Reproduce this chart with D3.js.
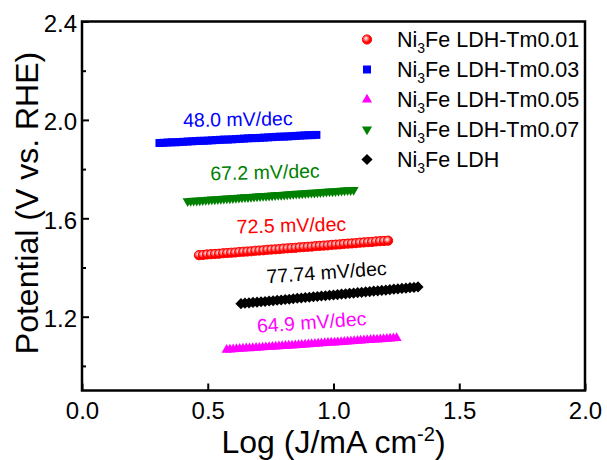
<!DOCTYPE html>
<html>

<head>
    <meta charset="utf-8">
    <script src="https://d3js.org/d3.v7.min.js"></script>
    <style>
        body {
            margin: 0;
            background: #fff;
        }

        svg text {
            font-family: Arial, "Liberation Sans", sans-serif;
        }
    </style>
</head>

<body>
    <script type="text/javascript">
        "use strict";

        // Tafel data (log J, potential V)
        var tm001X = [0.465, 0.481, 0.497, 0.513, 0.529, 0.545, 0.561, 0.577, 0.593, 0.609, 0.625, 0.641, 0.657, 0.673, 0.689, 0.705, 0.721, 0.737, 0.753, 0.769, 0.785, 0.801, 0.817, 0.833, 0.849, 0.865, 0.881, 0.897, 0.913, 0.929, 0.945, 0.961, 0.977, 0.993, 1.009, 1.025, 1.041, 1.057, 1.073, 1.089, 1.105, 1.121, 1.137, 1.153, 1.169, 1.185, 1.201, 1.217];
        var tm001Y = [1.450, 1.451, 1.453, 1.454, 1.455, 1.456, 1.458, 1.459, 1.460, 1.461, 1.463, 1.464, 1.465, 1.466, 1.468, 1.469, 1.470, 1.472, 1.473, 1.474, 1.475, 1.477, 1.478, 1.479, 1.480, 1.482, 1.483, 1.484, 1.485, 1.487, 1.488, 1.489, 1.490, 1.492, 1.493, 1.494, 1.496, 1.497, 1.498, 1.499, 1.501, 1.502, 1.503, 1.504, 1.506, 1.507, 1.508, 1.509];

        var tm003X = [0.308, 0.324, 0.340, 0.356, 0.372, 0.388, 0.404, 0.420, 0.436, 0.452, 0.468, 0.484, 0.500, 0.516, 0.532, 0.548, 0.564, 0.580, 0.596, 0.612, 0.628, 0.644, 0.660, 0.676, 0.692, 0.708, 0.724, 0.740, 0.756, 0.772, 0.788, 0.804, 0.820, 0.836, 0.852, 0.868, 0.884, 0.900, 0.916, 0.932];
        var tm003Y = [1.906, 1.907, 1.908, 1.909, 1.909, 1.910, 1.911, 1.912, 1.913, 1.914, 1.915, 1.915, 1.916, 1.917, 1.918, 1.919, 1.920, 1.920, 1.921, 1.922, 1.923, 1.924, 1.925, 1.926, 1.926, 1.927, 1.928, 1.929, 1.930, 1.931, 1.932, 1.932, 1.933, 1.934, 1.935, 1.936, 1.937, 1.938, 1.938, 1.939];

        var tm005X = [0.575, 0.588, 0.601, 0.614, 0.627, 0.640, 0.653, 0.666, 0.679, 0.692, 0.705, 0.718, 0.731, 0.744, 0.757, 0.770, 0.783, 0.796, 0.809, 0.822, 0.835, 0.848, 0.861, 0.874, 0.887, 0.900, 0.913, 0.926, 0.939, 0.952, 0.965, 0.978, 0.991, 1.004, 1.017, 1.030, 1.043, 1.056, 1.069, 1.082, 1.095, 1.108, 1.121, 1.134, 1.147, 1.160, 1.173, 1.186, 1.199, 1.212, 1.225, 1.238, 1.251];
        var tm005Y = [1.065, 1.066, 1.067, 1.068, 1.069, 1.070, 1.071, 1.071, 1.072, 1.073, 1.074, 1.075, 1.076, 1.077, 1.078, 1.079, 1.080, 1.081, 1.082, 1.083, 1.083, 1.084, 1.085, 1.086, 1.087, 1.088, 1.089, 1.090, 1.091, 1.092, 1.093, 1.094, 1.095, 1.095, 1.096, 1.097, 1.098, 1.099, 1.100, 1.101, 1.102, 1.103, 1.104, 1.105, 1.106, 1.107, 1.107, 1.108, 1.109, 1.110, 1.111, 1.112, 1.113];

        var tm007X = [0.420, 0.432, 0.444, 0.456, 0.468, 0.480, 0.492, 0.504, 0.516, 0.528, 0.540, 0.552, 0.564, 0.576, 0.588, 0.600, 0.612, 0.624, 0.636, 0.648, 0.660, 0.672, 0.684, 0.696, 0.708, 0.720, 0.732, 0.744, 0.756, 0.768, 0.780, 0.792, 0.804, 0.816, 0.828, 0.840, 0.852, 0.864, 0.876, 0.888, 0.900, 0.912, 0.924, 0.936, 0.948, 0.960, 0.972, 0.984, 0.996, 1.008, 1.020, 1.032, 1.044, 1.056, 1.068, 1.080];
        var tm007Y = [1.670, 1.671, 1.672, 1.672, 1.673, 1.674, 1.675, 1.676, 1.677, 1.677, 1.678, 1.679, 1.680, 1.681, 1.681, 1.682, 1.683, 1.684, 1.685, 1.686, 1.686, 1.687, 1.688, 1.689, 1.690, 1.691, 1.691, 1.692, 1.693, 1.694, 1.695, 1.695, 1.696, 1.697, 1.698, 1.699, 1.700, 1.700, 1.701, 1.702, 1.703, 1.704, 1.704, 1.705, 1.706, 1.707, 1.708, 1.709, 1.709, 1.710, 1.711, 1.712, 1.713, 1.714, 1.714, 1.715];

        var ldhX = [0.632, 0.648, 0.664, 0.680, 0.696, 0.712, 0.728, 0.744, 0.760, 0.776, 0.792, 0.808, 0.824, 0.840, 0.856, 0.872, 0.888, 0.904, 0.920, 0.936, 0.952, 0.968, 0.984, 1.000, 1.016, 1.032, 1.048, 1.064, 1.080, 1.096, 1.112, 1.128, 1.144, 1.160, 1.176, 1.192, 1.208, 1.224, 1.240, 1.256, 1.272, 1.288, 1.304, 1.320, 1.336];
        var ldhY = [1.253, 1.255, 1.256, 1.258, 1.259, 1.261, 1.262, 1.264, 1.265, 1.267, 1.268, 1.270, 1.271, 1.273, 1.275, 1.276, 1.278, 1.279, 1.281, 1.282, 1.284, 1.285, 1.287, 1.288, 1.290, 1.292, 1.293, 1.295, 1.296, 1.298, 1.299, 1.301, 1.302, 1.304, 1.305, 1.307, 1.308, 1.310, 1.312, 1.313, 1.315, 1.316, 1.318, 1.319, 1.321];

        var seriesNames = ["LDH-Tm0.01", "LDH-Tm0.03", "LDH-Tm0.05", "LDH-Tm0.07", "LDH"];
        var tafelLabels = ["72.5 mV/dec", "48.0 mV/dec", "64.9 mV/dec", "67.2 mV/dec", "77.74 mV/dec"];
        var xTicks = [0.0, 0.5, 1.0, 1.5, 2.0];
        var yTicks = [1.2, 1.6, 2.0, 2.4];
        var yMinorTicks = [1.0, 1.4, 1.8, 2.2];

        // look of each series
        var styles = [
            { color: "#ff0000", shape: "ball", size: 4.6, lx: 0.833, ly: 1.544, rot: -1.5 },
            { color: "#0000ff", shape: "square", size: 64, lx: 0.620, ly: 1.975, rot: -1 },
            { color: "#ff00ff", shape: "up", size: 44, lx: 0.915, ly: 1.150, rot: -4 },
            { color: "#008000", shape: "down", size: 44, lx: 0.728, ly: 1.760, rot: -1.5 },
            { color: "#000000", shape: "diamond", size: 62, lx: 0.974, ly: 1.353, rot: -4 }
        ];
        var seriesX = [tm001X, tm003X, tm005X, tm007X, ldhX];
        var seriesY = [tm001Y, tm003Y, tm005Y, tm007Y, ldhY];

        var W = 607, H = 460;
        var plotL = 82, plotR = 585, plotT = 21.5, plotB = 390.5;

        var svg = d3.select("body").append("svg")
            .attr("width", W)
            .attr("height", H);

        var defs = svg.append("defs");
        var grad = defs.append("radialGradient")
            .attr("id", "ball")
            .attr("cx", "40%").attr("cy", "38%").attr("r", "60%");
        grad.append("stop").attr("offset", "0%").attr("stop-color", "#ffffff");
        grad.append("stop").attr("offset", "35%").attr("stop-color", "#ff8080");
        grad.append("stop").attr("offset", "70%").attr("stop-color", "#ff0000");

        var x = d3.scaleLinear().domain([0, 2]).range([plotL, plotR]);
        var y = d3.scaleLinear().domain([0.9, 2.4]).range([plotB, plotT]);

        var shapeType = { square: d3.symbolSquare, up: d3.symbolTriangle, down: d3.symbolTriangle, diamond: d3.symbolSquare };
        var shapeRot = { square: 0, up: 0, down: 180, diamond: 45 };

        // draw one marker at (px, py)
        function marker(g, st, px, py) {
            if (st.shape === "ball") {
                g.append("circle")
                    .attr("cx", px).attr("cy", py).attr("r", st.size)
                    .attr("fill", "url(#ball)")
                    .attr("stroke", "#ff0000")
                    .attr("stroke-width", 1);
            } else {
                g.append("path")
                    .attr("d", d3.symbol().type(shapeType[st.shape]).size(st.size)())
                    .attr("transform", "translate(" + px + "," + py + ") rotate(" + shapeRot[st.shape] + ")")
                    .attr("fill", st.color);
            }
        }

        // data
        var plot = svg.append("g");
        seriesNames.forEach(function(name, s) {
            var g = plot.append("g");
            seriesX[s].forEach(function(v, i) {
                marker(g, styles[s], x(v), y(seriesY[s][i]));
            });
        });

        // slope labels
        tafelLabels.forEach(function(t, s) {
            var st = styles[s];
            svg.append("text")
                .attr("transform", "translate(" + x(st.lx) + "," + y(st.ly) + ") rotate(" + st.rot + ")")
                .attr("text-anchor", "middle")
                .style("font-size", "19.5px")
                .attr("fill", st.color)
                .text(t);
        });

        // axes
        var xAxis = svg.append("g")
            .attr("transform", "translate(0," + plotB + ")")
            .call(d3.axisBottom(x).tickValues(xTicks).tickSize(-7).tickPadding(11)
                .tickFormat(d3.format(".1f")));
        var yAxis = svg.append("g")
            .attr("transform", "translate(" + plotL + ",0)")
            .call(d3.axisLeft(y).tickValues(yTicks).tickSize(-7).tickPadding(5)
                .tickFormat(d3.format(".1f")));
        svg.append("g")
            .attr("transform", "translate(" + plotL + ",0)")
            .call(d3.axisLeft(y).tickValues(yMinorTicks).tickSize(-4).tickFormat(""));

        svg.selectAll(".domain").remove();
        svg.selectAll(".tick line").attr("stroke", "#000").attr("stroke-width", 2);
        svg.selectAll(".tick text")
            .style("font-size", "24px")
            .attr("fill", "#000");
        yAxis.selectAll(".tick text").attr("dy", "10px");

        // frame
        svg.append("rect")
            .attr("x", plotL).attr("y", plotT)
            .attr("width", plotR - plotL).attr("height", plotB - plotT)
            .attr("fill", "none")
            .attr("stroke", "#000")
            .attr("stroke-width", 2.5);

        // axis titles
        var xt = svg.append("text")
            .attr("x", (plotL + plotR) / 2)
            .attr("y", 453)
            .attr("text-anchor", "middle")
            .style("font-size", "32px");
        xt.append("tspan").text("Log (J/mA cm");
        xt.append("tspan").attr("dy", -12).style("font-size", "20px").text("-2");
        xt.append("tspan").attr("dy", 12).text(")");

        svg.append("text")
            .attr("transform", "translate(38,203) rotate(-90)")
            .attr("text-anchor", "middle")
            .style("font-size", "32px")
            .text("Potential (V vs. RHE)");

        // legend
        var legend = svg.append("g");
        seriesNames.forEach(function(name, s) {
            var base = 47 + s * 30;
            var lg = legend.append("g");
            marker(lg, styles[s], 367, base - 7.5);
            var t = lg.append("text")
                .attr("x", 397)
                .attr("y", base)
                .style("font-size", "21.5px");
            t.append("tspan").text("Ni");
            t.append("tspan").attr("dy", 6).style("font-size", "14px").text("3");
            t.append("tspan").attr("dy", -6).text("Fe " + name);
        });
    </script>
</body>

</html>
